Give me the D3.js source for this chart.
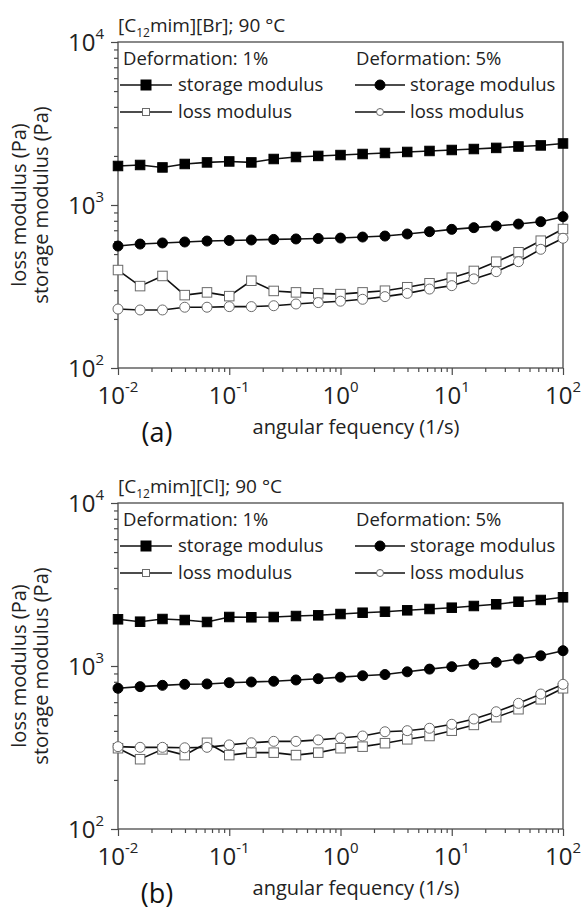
<!DOCTYPE html>
<html>
<head>
<meta charset="utf-8">
<script src="https://cdn.jsdelivr.net/npm/d3@7"></script>
<style>
  body { margin: 0; background: #fff; }
  svg { display: block; font-family: "Open Sans", sans-serif; }
</style>
</head>
<body>
<div id="chart"></div>
<script>
// angular frequency (1/s), shared by all series
const freq = [0.01, 0.0158, 0.0251, 0.0398, 0.0631, 0.1, 0.158, 0.251, 0.398, 0.631,
              1, 1.58, 2.51, 3.98, 6.31, 10, 15.8, 25.1, 39.8, 63.1, 100];

// (a) [C12mim][Br]
const brStorage1 = [1735, 1760, 1700, 1785, 1825, 1850, 1825, 1915, 1970, 2000, 2025,
                    2055, 2085, 2115, 2145, 2175, 2205, 2240, 2285, 2320, 2385];
const brLoss1 = [399, 318, 367, 280, 291, 276, 343, 297, 291, 287, 284,
                 291, 298, 313, 331, 358, 394, 449, 513, 604, 712];
const brStorage5 = [560, 576, 585, 593, 601, 606, 610, 615, 619, 623, 627,
                    636, 645, 664, 686, 709, 726, 743, 764, 790, 848];
const brLoss5 = [230, 227, 227, 236, 236, 238, 238, 241, 247, 252, 257,
                 264, 274, 287, 305, 320, 352, 390, 449, 535, 625];

// (b) [C12mim][Cl]
const clStorage1 = [1934, 1870, 1942, 1915, 1862, 1998, 1990, 1998, 2026, 2046, 2084,
                    2123, 2153, 2196, 2237, 2279, 2334, 2391, 2480, 2541, 2640];
const clLoss1 = [313, 268, 308, 284, 338, 284, 294, 294, 284, 294, 313,
                 320, 336, 355, 372, 401, 435, 485, 543, 625, 730];
const clStorage5 = [730, 747, 761, 772, 776, 790, 798, 806, 821, 836, 854,
                    871, 886, 921, 957, 990, 1024, 1054, 1104, 1155, 1241];
const clLoss5 = [320, 317, 317, 315, 317, 328, 338, 345, 345, 352, 362,
                 372, 395, 401, 415, 439, 473, 524, 590, 673, 772];

const xTicks = [0.01, 0.1, 1, 10, 100];
const xTickExp = ['-2', '-1', '0', '1', '2'];
const yTicks = [100, 1000, 10000];
const yTickExp = ['2', '3', '4'];

const panels = [
  { top: 0, salt: 'Br', tag: '(a)', s1: brStorage1, l1: brLoss1, s5: brStorage5, l5: brLoss5 },
  { top: 461, salt: 'Cl', tag: '(b)', s1: clStorage1, l1: clLoss1, s5: clStorage5, l5: clLoss5 }
];

const W = 583, H = 911;
const svg = d3.select('#chart').append('svg').attr('width', W).attr('height', H);

const left = 118, right = 563, plotTop = 42, plotBottom = 368;
const x = d3.scaleLog().domain([0.01, 100]).range([left, right]);

const minorVals = (lo, hi) => {
  const out = [];
  for (let d = lo; d < hi; d *= 10) for (let k = 2; k <= 9; k++) out.push(d * k);
  return out;
};

const axisColor = '#4a4a4a';
const lineColor = '#111';
const openStroke = '#6a6a6a';
const textColor = '#222';

function drawMarker(g, type, filled, cx, cy, size) {
  const fill = filled ? '#000' : '#fff';
  const stroke = filled ? '#000' : openStroke;
  if (type === 'square') {
    g.append('rect')
      .attr('x', cx - size / 2).attr('y', cy - size / 2)
      .attr('width', size).attr('height', size)
      .attr('fill', fill).attr('stroke', stroke).attr('stroke-width', 1);
  } else {
    g.append('circle')
      .attr('cx', cx).attr('cy', cy).attr('r', size / 2)
      .attr('fill', fill).attr('stroke', stroke).attr('stroke-width', 1);
  }
}

function drawPanel(p) {
  const g = svg.append('g').attr('transform', `translate(0,${p.top})`);
  const y = d3.scaleLog().domain([100, 10000]).range([plotBottom, plotTop]);

  // frame
  g.append('rect')
    .attr('x', left).attr('y', plotTop)
    .attr('width', right - left).attr('height', plotBottom - plotTop)
    .attr('fill', 'none').attr('stroke', axisColor).attr('stroke-width', 1.3);

  // minor ticks
  g.append('g').attr('transform', `translate(0,${plotBottom})`)
    .call(d3.axisBottom(x).tickValues(minorVals(0.01, 100)).tickSize(4).tickFormat(''))
    .call(a => a.select('.domain').remove());
  g.append('g').attr('transform', `translate(${left},0)`)
    .call(d3.axisLeft(y).tickValues(minorVals(100, 10000)).tickSize(4).tickFormat(''))
    .call(a => a.select('.domain').remove());

  // major ticks
  g.append('g').attr('transform', `translate(0,${plotBottom})`)
    .call(d3.axisBottom(x).tickValues(xTicks).tickSize(7).tickFormat(''))
    .call(a => a.select('.domain').remove());
  g.append('g').attr('transform', `translate(${left},0)`)
    .call(d3.axisLeft(y).tickValues(yTicks).tickSize(7).tickFormat(''))
    .call(a => a.select('.domain').remove());
  g.selectAll('.tick line').attr('stroke', axisColor).attr('stroke-width', 1.2);

  // tick labels with superscripts
  xTicks.forEach((v, i) => {
    const t = g.append('text')
      .attr('x', x(v)).attr('y', plotBottom + 36)
      .attr('text-anchor', 'middle')
      .attr('fill', textColor).attr('font-size', 24);
    t.append('tspan').text('10');
    t.append('tspan').attr('font-size', 15).attr('dy', -12).text(xTickExp[i]);
  });
  yTicks.forEach((v, i) => {
    const t = g.append('text')
      .attr('x', 104).attr('y', y(v) + 9)
      .attr('text-anchor', 'end')
      .attr('fill', textColor).attr('font-size', 24);
    t.append('tspan').text('10');
    t.append('tspan').attr('font-size', 15).attr('dy', -12).text(yTickExp[i]);
  });

  // axis titles
  g.append('text')
    .attr('x', 356).attr('y', 434)
    .attr('text-anchor', 'middle').attr('font-size', 20).attr('fill', textColor)
    .text('angular fequency (1/s)');
  g.append('text')
    .attr('x', 157).attr('y', 442)
    .attr('text-anchor', 'middle').attr('font-size', 27).attr('fill', '#111')
    .text(p.tag);
  const midY = (plotTop + plotBottom) / 2;
  g.append('text')
    .attr('transform', `translate(26,${midY}) rotate(-90)`)
    .attr('text-anchor', 'middle').attr('font-size', 20).attr('fill', textColor)
    .text('loss modulus (Pa)');
  g.append('text')
    .attr('transform', `translate(48,${midY}) rotate(-90)`)
    .attr('text-anchor', 'middle').attr('font-size', 20).attr('fill', textColor)
    .text('storage modulus (Pa)');

  // title
  const title = g.append('text')
    .attr('x', left).attr('y', 32)
    .attr('font-size', 19).attr('fill', textColor);
  title.append('tspan').text('[C');
  title.append('tspan').attr('font-size', 12).attr('dy', 5).text('12');
  title.append('tspan').attr('dy', -5).text(`mim][${p.salt}]; 90 °C`);

  // series
  const series = [
    { vals: p.l1, type: 'square', filled: false, size: 9.5 },
    { vals: p.l5, type: 'circle', filled: false, size: 10 },
    { vals: p.s5, type: 'circle', filled: true, size: 10 },
    { vals: p.s1, type: 'square', filled: true, size: 9.5 }
  ];
  const line = d3.line().x((d, i) => x(freq[i])).y(d => y(d));
  series.forEach(s => {
    g.append('path')
      .datum(s.vals)
      .attr('d', line)
      .attr('fill', 'none').attr('stroke', lineColor).attr('stroke-width', 1.6);
    const mg = g.append('g');
    s.vals.forEach((v, i) => drawMarker(mg, s.type, s.filled, x(freq[i]), y(v), s.size));
  });

  // legend
  const legends = [
    { x: 123, header: 'Deformation: 1%', lx0: 120, lx1: 172, tx: 178, type: 'square' },
    { x: 356, header: 'Deformation: 5%', lx0: 355, lx1: 405, tx: 410, type: 'circle' }
  ];
  legends.forEach(l => {
    g.append('text').attr('x', l.x).attr('y', 65)
      .attr('font-size', 18.5).attr('fill', textColor).text(l.header);
    [{ cy: 85, filled: true, label: 'storage modulus', size: 10 },
     { cy: 112, filled: false, label: 'loss modulus', size: 7 }].forEach(r => {
      g.append('line')
        .attr('x1', l.lx0).attr('x2', l.lx1).attr('y1', r.cy).attr('y2', r.cy)
        .attr('stroke', lineColor).attr('stroke-width', 1.5);
      drawMarker(g, l.type, r.filled, (l.lx0 + l.lx1) / 2, r.cy, r.size);
      g.append('text').attr('x', l.tx).attr('y', r.cy + 6)
        .attr('font-size', 18.5).attr('fill', textColor).text(r.label);
    });
  });
}

panels.forEach(drawPanel);
</script>
</body>
</html>
